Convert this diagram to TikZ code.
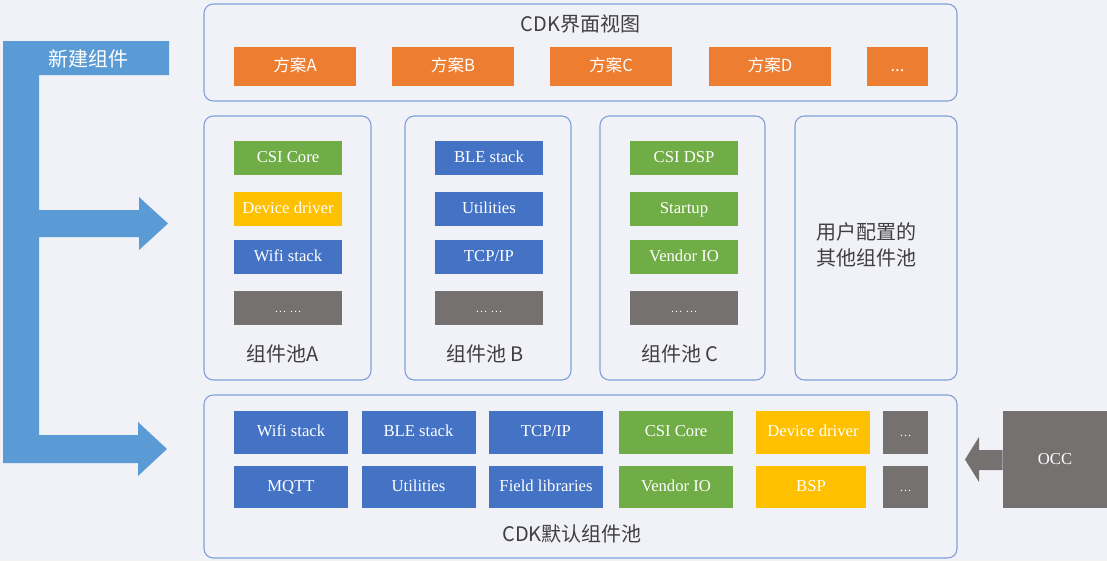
\documentclass[tikz,border=0pt]{standalone}
\usepackage{fontspec}
\setmainfont{Liberation Serif}
\newfontfamily\cjk{Noto Sans CJK SC}
\usetikzlibrary{positioning}

\definecolor{bgfill}{RGB}{241,241,248}
\definecolor{panelline}{RGB}{127,160,216}
\definecolor{compblue}{RGB}{68,114,196}
\definecolor{compgreen}{RGB}{112,173,71}
\definecolor{compgold}{RGB}{255,192,0}
\definecolor{compgray}{RGB}{118,113,113}
\definecolor{planorange}{RGB}{237,125,49}
\definecolor{arrowblue}{RGB}{91,155,213}
\definecolor{labeltext}{RGB}{64,64,64}

\begin{document}
\begin{tikzpicture}[x=0.75pt, y=-0.75pt,
  panel/.style={draw=panelline, line width=0.8pt, rounded corners=7pt, inner sep=0pt},
  plan/.style={fill=planorange, text=white, minimum width=91.5pt, minimum height=29.25pt, inner sep=0pt, text height=9pt, text depth=2pt, font=\cjk\fontsize{12.5}{14}\selectfont},
  comp/.style={fill=#1, text=white, minimum width=81pt, minimum height=25.5pt, inner sep=0pt, text height=8.5pt, text depth=2.5pt, font=\fontsize{12.5}{14}\selectfont},
  base/.style={fill=#1, text=white, minimum width=85.5pt, minimum height=32pt, inner sep=0pt, text height=8.5pt, text depth=2.5pt, font=\fontsize{12.5}{14}\selectfont},
  title/.style={text=labeltext, font=\cjk\fontsize{15}{19}\selectfont, align=center}
]
% background and bounding box
\fill[bgfill] (0,0) rectangle (1107,561);
\useasboundingbox (0,0) rectangle (1107,561);

% CDK view with its plans
\node[panel, minimum width=564.75pt, minimum height=72.75pt] (view) at (580.5,52.5) {};
\node[title] (viewlbl) at (580.5,24) {CDK界面视图};
\node[plan] (planA) at (295,66.5) {方案A};
\node[plan] (planB) at (453,66.5) {方案B};
\node[plan] (planC) at (611,66.5) {方案C};
\node[plan] (planD) at (770,66.5) {方案D};
\node[plan, minimum width=45.75pt] (planE) at (897.5,66.5) {...};

% component pools
\node[panel, minimum width=125.25pt, minimum height=198pt] (poolA) at (287.5,248) {};
\node[panel, minimum width=124.5pt, minimum height=198pt] (poolB) at (488,248) {};
\node[panel, minimum width=123.75pt, minimum height=198pt] (poolC) at (682.5,248) {};
\node[panel, minimum width=121.5pt, minimum height=198pt] (poolU) at (876,248) {};

\node[comp=compgreen] (a1) at (288,158) {CSI Core};
\node[comp=compgold] (a2) at (288,209) {Device driver};
\node[comp=compblue] (a3) at (288,257) {Wifi stack};
\node[comp=compgray, font=\fontsize{9}{10}\selectfont] (a4) at (288,308) {\ldots\ \ldots};
\node[title] (poolAlbl) at (283,354) {组件池A};

\node[comp=compblue] (b1) at (489,158) {BLE stack};
\node[comp=compblue] (b2) at (489,209) {Utilities};
\node[comp=compblue] (b3) at (489,257) {TCP/IP};
\node[comp=compgray, font=\fontsize{9}{10}\selectfont] (b4) at (489,308) {\ldots\ \ldots};
\node[title] (poolBlbl) at (485,354) {组件池 B};

\node[comp=compgreen] (c1) at (684,158) {CSI DSP};
\node[comp=compgreen] (c2) at (684,209) {Startup};
\node[comp=compgreen] (c3) at (684,257) {Vendor IO};
\node[comp=compgray, font=\fontsize{9}{10}\selectfont] (c4) at (684,308) {\ldots\ \ldots};
\node[title] (poolClbl) at (680,354) {组件池 C};

\node[title] (poolUlbl) at (866,245) {用户配置的\\其他组件池};

% CDK default pool
\node[panel, minimum width=564.75pt, minimum height=122.25pt] (defpool) at (580.5,476.5) {};
\node[base=compblue] (d1) at (291,432.5) {Wifi stack};
\node[base=compblue] (d2) at (418.5,432.5) {BLE stack};
\node[base=compblue] (d3) at (546,432.5) {TCP/IP};
\node[base=compgreen] (d4) at (676,432.5) {CSI Core};
\node[base=compgold] (d5) at (813,432.5) {Device driver};
\node[base=compgray, minimum width=33.75pt, font=\fontsize{9}{10}\selectfont] (d6) at (905.5,432.5) {\ldots};
\node[base=compblue] (e1) at (291,487) {MQTT};
\node[base=compblue] (e2) at (418.5,487) {Utilities};
\node[base=compblue] (e3) at (546,487) {Field libraries};
\node[base=compgreen] (e4) at (676,487) {Vendor IO};
\node[base=compgold, minimum width=82.5pt] (e5) at (811,487) {BSP};
\node[base=compgray, minimum width=33.75pt, font=\fontsize{9}{10}\selectfont] (e6) at (905.5,487) {\ldots};
\node[title] (defpoollbl) at (572,534) {CDK默认组件池};

% OCC feeding the default pool
\node[fill=compgray, text=white, minimum width=78pt, minimum height=72.75pt, inner sep=0pt, font=\fontsize{12.5}{14}\selectfont] (occ) at (1055,459.5) {OCC};
\fill[compgray] (occ.west |- 0,450) -- (979,450) -- (979,437) -- (965,459.5) -- (979,482) -- (979,470) -- (occ.west |- 0,470) -- cycle;

% new components arrow
\fill[arrowblue] (3,41) -- (169,41) -- (169,75) -- (39,75) -- (39,210) -- (139,210) -- (139,197)
  -- (168,223.5) -- (139,250) -- (139,237) -- (39,237) -- (39,435) -- (138,435) -- (138,422)
  -- (167,449) -- (138,476) -- (138,463) -- (3,463) -- cycle;
\node[text=white, font=\cjk\fontsize{15}{19}\selectfont] (newcomp) at (88,59) {新建组件};

\end{tikzpicture}
\end{document}
